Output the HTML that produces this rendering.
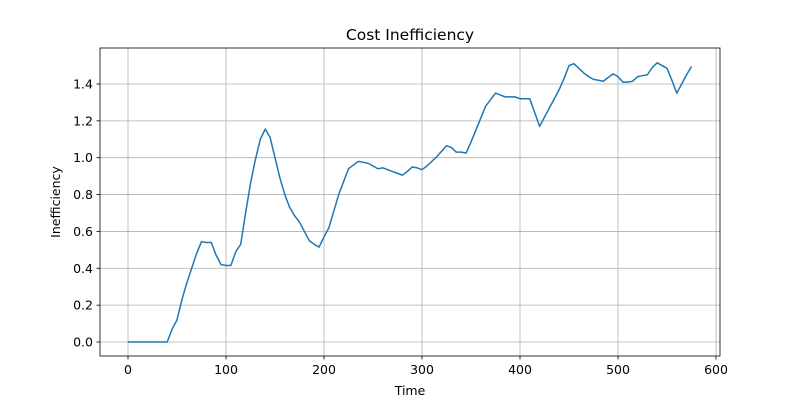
<!DOCTYPE html>
<html><head><meta charset="utf-8"><style>
body{margin:0;background:#fff;}
svg text{font-family:"DejaVu Sans","Liberation Sans",sans-serif;fill:#000;}
</style></head><body>
<svg id="chart" width="800" height="400"></svg>
<script>
const xValues=[0,5,10,15,20,25,30,35,40,45,50,55,60,65,70,75,80,85,90,95,100,105,110,115,120,125,130,135,140,145,150,155,160,165,170,175,180,185,190,195,200,205,210,215,220,225,230,235,240,245,250,255,260,265,270,275,280,285,290,295,300,305,310,315,320,325,330,335,340,345,350,355,360,365,370,375,380,385,390,395,400,405,410,415,420,425,430,435,440,445,450,455,460,465,470,475,480,485,490,495,500,505,510,515,520,525,530,535,540,545,550,555,560,565,570,575];
const yValues=[0,0,0,0,0,0,0,0,0,0.07,0.12,0.23,0.32,0.4,0.48,0.545,0.54,0.54,0.47,0.42,0.415,0.415,0.49,0.53,0.7,0.86,0.99,1.1,1.155,1.11,1.0,0.89,0.8,0.73,0.685,0.65,0.6,0.55,0.53,0.515,0.57,0.62,0.71,0.8,0.87,0.94,0.96,0.98,0.975,0.97,0.955,0.94,0.945,0.935,0.925,0.915,0.905,0.925,0.95,0.945,0.935,0.955,0.98,1.005,1.035,1.065,1.055,1.03,1.03,1.025,1.085,1.15,1.215,1.28,1.315,1.35,1.34,1.33,1.33,1.33,1.32,1.32,1.32,1.245,1.17,1.22,1.27,1.32,1.37,1.43,1.5,1.51,1.485,1.46,1.44,1.425,1.42,1.415,1.435,1.455,1.44,1.41,1.41,1.415,1.44,1.445,1.45,1.49,1.515,1.5,1.485,1.42,1.35,1.4,1.45,1.495];
const xTicks=[0,100,200,300,400,500,600];
const yTicks=[0.0,0.2,0.4,0.6,0.8,1.0,1.2,1.4];
const NS="http://www.w3.org/2000/svg";
const svg=document.getElementById('chart');
const L=100,R=720,T=48,B=356;
const sx=v=>128+v*0.98;
const sy=v=>342-v*184.3;
function mk(tag,attrs,parent){const e=document.createElementNS(NS,tag);for(const k in attrs)e.setAttribute(k,attrs[k]);(parent||svg).appendChild(e);return e;}
const grid=mk('g',{});


xTicks.forEach(t=>{
  const x=sx(t);
  mk('line',{x1:x,x2:x,y1:T,y2:B,stroke:'#b0b0b0','stroke-width':0.8},grid);
  mk('line',{x1:x,x2:x,y1:B,y2:B+3.5,stroke:'#000','stroke-width':0.8});
  const tx=mk('text',{x:x,y:B+18,'text-anchor':'middle','font-size':12.5});
  tx.textContent=t;
  
  
});
yTicks.forEach(t=>{
  const y=sy(t);
  mk('line',{x1:L,x2:R,y1:y,y2:y,stroke:'#b0b0b0','stroke-width':0.8},grid);
  mk('line',{x1:L-3.5,x2:L,y1:y,y2:y,stroke:'#000','stroke-width':0.8});
  const tx=mk('text',{x:L-7,y:y+4.5,'text-anchor':'end','font-size':12.5});
  tx.textContent=t.toFixed(1);
  
  
});
const line=mk('polyline',{points:xValues.map((x,i)=>sx(x)+','+sy(yValues[i])).join(' '),fill:'none',stroke:'#1f77b4','stroke-width':1.5,'stroke-linejoin':'round'});


const frame=mk('rect',{x:L,y:T,width:R-L,height:B-T,fill:'none',stroke:'#000','stroke-width':0.8});


const title=mk('text',{x:410,y:40,'text-anchor':'middle','font-size':15.5});
title.textContent='Cost Inefficiency';


const xl=mk('text',{x:410,y:395,'text-anchor':'middle','font-size':12.5});
xl.textContent='Time';


const yl=mk('text',{x:60,y:202,'text-anchor':'middle','font-size':12.5,transform:'rotate(-90 60 202)'});
yl.textContent='Inefficiency';


</script>
</body></html>
